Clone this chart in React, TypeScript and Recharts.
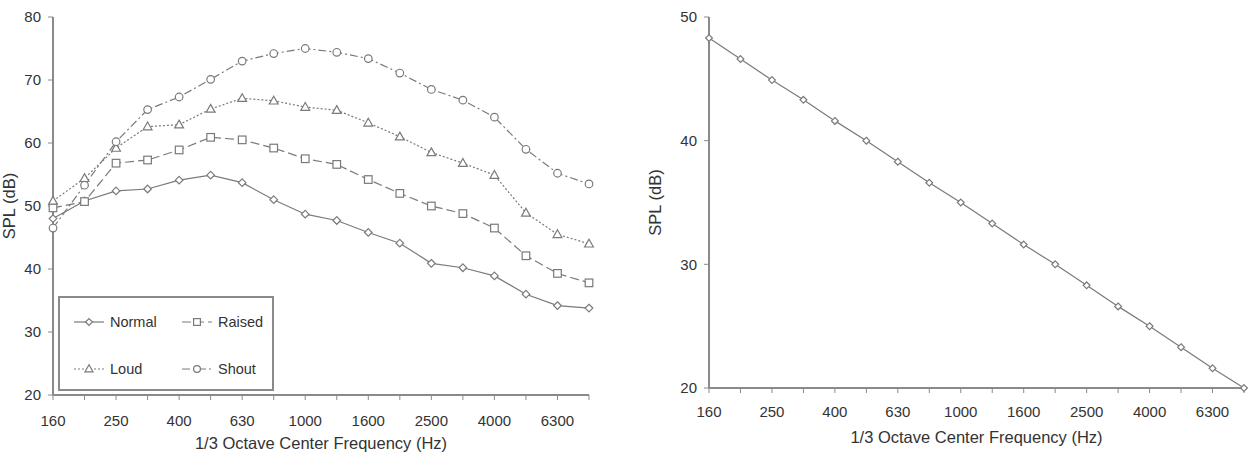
import React from "react";
import { LineChart, Line, XAxis, YAxis, Legend } from "recharts";

const freqs = ["160", "200", "250", "315", "400", "500", "630", "800", "1000", "1250", "1600", "2000", "2500", "3150", "4000", "5000", "6300", "8000"];

const normal = [48.0, 50.8, 52.4, 52.7, 54.1, 54.9, 53.7, 51.0, 48.7, 47.7, 45.8, 44.1, 40.9, 40.2, 38.9, 36.0, 34.2, 33.8];
const raised = [49.7, 50.7, 56.8, 57.3, 58.9, 60.9, 60.5, 59.2, 57.5, 56.6, 54.2, 52.0, 50.0, 48.8, 46.5, 42.1, 39.3, 37.8];
const loud = [50.8, 54.4, 59.2, 62.6, 62.9, 65.4, 67.1, 66.7, 65.7, 65.2, 63.2, 61.0, 58.5, 56.8, 54.9, 48.9, 45.5, 44.0];
const shout = [46.5, 53.3, 60.2, 65.3, 67.3, 70.1, 73.0, 74.2, 75.0, 74.4, 73.4, 71.1, 68.5, 66.8, 64.1, 59.0, 55.2, 53.5];

const spl = [48.3, 46.6, 44.9, 43.3, 41.6, 40.0, 38.3, 36.6, 35.0, 33.3, 31.6, 30.0, 28.3, 26.6, 25.0, 23.3, 21.6, 20.0];

const leftTicks = [20, 30, 40, 50, 60, 70, 80];
const rightTicks = [20, 30, 40, 50];

const leftData = freqs.map((f, i) => ({ f, normal: normal[i], raised: raised[i], loud: loud[i], shout: shout[i] }));
const rightData = freqs.map((f, i) => ({ f, spl: spl[i] }));

const FONT = "'Liberation Sans', Arial, sans-serif";
const TEXT = "#333";
const LINE = "#7a7a7a";
const AXIS = "#8a8a8a";
const BORDER = "#d0d0d0";

const series = [
  { key: "normal", name: "Normal", dash: undefined as string | undefined, shape: "diamond" },
  { key: "raised", name: "Raised", dash: "9 4", shape: "square" },
  { key: "loud", name: "Loud", dash: "2 2", shape: "triangle" },
  { key: "shout", name: "Shout", dash: "8 3 2 3", shape: "circle" },
];

function marker(shape: string, cx: number, cy: number, key?: any, s = 3.8) {
  const common = { fill: "#fff", stroke: LINE, strokeWidth: 1.2 };
  if (shape === "diamond")
    return <path key={key} d={`M${cx},${cy - s} L${cx + s},${cy} L${cx},${cy + s} L${cx - s},${cy} Z`} {...common} />;
  if (shape === "square")
    return <rect key={key} x={cx - s} y={cy - s} width={s * 2} height={s * 2} {...common} />;
  if (shape === "triangle")
    return <path key={key} d={`M${cx},${cy - s - 0.8} L${cx + s + 0.6},${cy + s - 0.6} L${cx - s - 0.6},${cy + s - 0.6} Z`} {...common} />;
  return <circle key={key} cx={cx} cy={cy} r={s} {...common} />;
}

const makeDot = (shape: string, s?: number) => (props: any) => {
  const { cx, cy, index } = props;
  if (cx == null || cy == null) return <g key={index} />;
  return marker(shape, cx, cy, index, s);
};

const XTick = ({ x, y, payload, index }: any) =>
  index % 2 === 0 ? (
    <text x={x} y={y} dy="0.71em" textAnchor="middle" fill={TEXT} fontSize={15} fontFamily={FONT}>
      {payload.value}
    </text>
  ) : (
    <g />
  );

const XTitle = ({ viewBox, dy }: any) => (
  <text x={viewBox.x + viewBox.width / 2} y={viewBox.y + dy} textAnchor="middle" fill={TEXT} fontSize={16.5} fontFamily={FONT}>
    1/3 Octave Center Frequency (Hz)
  </text>
);

const YTitle = ({ viewBox, cx }: any) => {
  const cy = viewBox.y + viewBox.height / 2;
  return (
    <text x={cx} y={cy} transform={`rotate(-90 ${cx} ${cy})`} textAnchor="middle" dominantBaseline="central" fill={TEXT} fontSize={16.5} fontFamily={FONT}>
      SPL (dB)
    </text>
  );
};

const LegendBox = () => {
  const cols = [0, 108];
  const rows = [24, 71];
  return (
    <svg width={216} height={95} style={{ display: "block" }}>
      {series.map((s, i) => {
        const x0 = 14 + cols[i % 2];
        const y0 = rows[Math.floor(i / 2)];
        return (
          <g key={s.key}>
            <line x1={x0} y1={y0} x2={x0 + 30} y2={y0} stroke={LINE} strokeWidth={1.2} strokeDasharray={s.dash} />
            {marker(s.shape, x0 + 15, y0, undefined, 3.4)}
            <text x={x0 + 36} y={y0} dominantBaseline="central" fill={TEXT} fontSize={14.5} fontFamily={FONT}>
              {s.name}
            </text>
          </g>
        );
      })}
    </svg>
  );
};

export default function App() {
  return (
    <div style={{ position: "absolute", left: 0, top: 0, width: 1251, height: 463, background: "#fff" }}>
      <div style={{ position: "absolute", left: 0, top: 0 }}>
        <LineChart width={600} height={463} data={leftData} margin={{ top: 17, right: 11, left: 8, bottom: 0 }}>
          <XAxis xAxisId="top" orientation="top" dataKey="f" height={0} tick={false} tickLine={false} axisLine={{ stroke: BORDER, strokeWidth: 2 }} />
          <YAxis yAxisId="right" orientation="right" width={0} domain={[20, 80]} tick={false} tickLine={false} axisLine={{ stroke: BORDER, strokeWidth: 2 }} />
          <XAxis
            dataKey="f"
            interval={0}
            height={68}
            tickSize={5}
            tickMargin={15}
            tick={<XTick />}
            tickLine={{ stroke: AXIS }}
            axisLine={{ stroke: AXIS, strokeWidth: 2 }}
            label={<XTitle dy={54} />}
          />
          <YAxis
            width={45}
            domain={[20, 80]}
            ticks={leftTicks}
            tickSize={5}
            tickMargin={7}
            tick={{ fill: TEXT, fontSize: 15, fontFamily: FONT }}
            tickLine={{ stroke: AXIS }}
            axisLine={{ stroke: AXIS, strokeWidth: 2 }}
            label={<YTitle cx={9} />}
          />
          <Legend
            layout="horizontal"
            verticalAlign="middle"
            align="center"
            content={<LegendBox />}
            wrapperStyle={{ left: 58, top: 296, width: 216, height: 95, border: `2px solid ${AXIS}`, background: "#fff", boxSizing: "border-box" }}
          />
          {series.map((s) => (
            <Line
              key={s.key}
              dataKey={s.key}
              name={s.name}
              type="linear"
              stroke={LINE}
              strokeWidth={1.2}
              strokeDasharray={s.dash}
              dot={makeDot(s.shape)}
              activeDot={false}
              isAnimationActive={false}
            />
          ))}
        </LineChart>
      </div>
      <div style={{ position: "absolute", left: 630, top: 0 }}>
        <LineChart width={621} height={463} data={rightData} margin={{ top: 17, right: 7, left: 20, bottom: 0 }}>
          <XAxis xAxisId="top" orientation="top" dataKey="f" height={0} tick={false} tickLine={false} axisLine={{ stroke: BORDER, strokeWidth: 2 }} />
          <YAxis yAxisId="right" orientation="right" width={0} domain={[20, 50]} tick={false} tickLine={false} axisLine={{ stroke: BORDER, strokeWidth: 2 }} />
          <XAxis
            dataKey="f"
            interval={0}
            height={75}
            tickSize={5}
            tickMargin={13}
            tick={<XTick />}
            tickLine={{ stroke: AXIS }}
            axisLine={{ stroke: AXIS, strokeWidth: 2 }}
            label={<XTitle dy={55} />}
          />
          <YAxis
            width={59}
            domain={[20, 50]}
            ticks={rightTicks}
            tickSize={5}
            tickMargin={7}
            tick={{ fill: TEXT, fontSize: 15, fontFamily: FONT }}
            tickLine={{ stroke: AXIS }}
            axisLine={{ stroke: AXIS, strokeWidth: 2 }}
            label={<YTitle cx={25} />}
          />
          <Line
            dataKey="spl"
            type="linear"
            stroke={LINE}
            strokeWidth={1.2}
            dot={makeDot("diamond", 3.4)}
            activeDot={false}
            isAnimationActive={false}
          />
        </LineChart>
      </div>
    </div>
  );
}
